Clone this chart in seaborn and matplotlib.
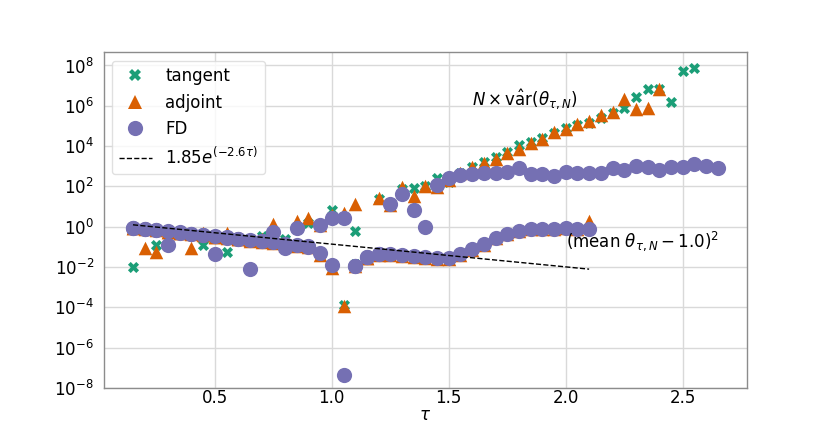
import numpy as np
import pandas as pd
import matplotlib
matplotlib.use('Agg')
import matplotlib.pyplot as plt
import seaborn as sns
from matplotlib.lines import Line2D

# tau grid (step 0.05), each series uses the first len(series) values
TAU = [0.15, 0.20, 0.25, 0.30, 0.35, 0.40, 0.45, 0.50, 0.55, 0.60,
       0.65, 0.70, 0.75, 0.80, 0.85, 0.90, 0.95, 1.00, 1.05, 1.10,
       1.15, 1.20, 1.25, 1.30, 1.35, 1.40, 1.45, 1.50, 1.55, 1.60,
       1.65, 1.70, 1.75, 1.80, 1.85, 1.90, 1.95, 2.00, 2.05, 2.10,
       2.15, 2.20, 2.25, 2.30, 2.35, 2.40, 2.45, 2.50, 2.55, 2.60,
       2.65]

# values, stored as log10 exponents
# N x var estimates
TANGENT_VAR = [-2.0, -0.15, -0.9, -0.3, -0.35, -0.4, -0.9, -0.5, -1.25, -0.6,
               -0.65, -0.45, -0.5, -0.6, -0.1, 0.2, 0.05, 0.85, 0.45, -0.2,
               -1.5, 1.4, 1.15, 1.85, 1.9, 2.0, 2.4, 2.2, 2.65, 2.95,
               3.2, 3.45, 3.7, 4.05, 4.2, 4.4, 4.65, 4.9, 5.05, 5.15,
               5.4, 5.65, 5.9, 6.45, 6.85, 6.85, 6.2, 7.75, 7.9]
ADJOINT_VAR = [-0.05, -1.05, -1.25, -0.25, -0.3, -1.05, -0.3, -0.5, -0.3, -0.6,
               -0.7, -0.6, 0.15, -0.9, 0.3, 0.45, 0.1, 0.6, 0.7, 1.15,
               -1.55, 1.45, 1.1, 1.95, 1.55, 2.0, 1.95, 2.3, 2.65, 2.95,
               3.15, 3.35, 3.65, 3.85, 4.15, 4.35, 4.7, 4.85, 5.1, 5.25,
               5.55, 5.7, 6.35, 5.85, 5.9, 6.85]
FD_VAR = [-0.05, -0.1, -0.15, -0.9, -0.3, -0.35, -0.4, -1.35, -0.55, -0.6,
          -2.1, -0.7, -0.25, -1.05, -0.05, -1.0, 0.1, 0.45, 0.45, -1.95,
          -1.5, -1.35, 1.15, 1.65, 0.85, 0.0, 2.05, 2.4, 2.55, 2.6,
          2.65, 2.65, 2.7, 2.9, 2.6, 2.6, 2.5, 2.7, 2.65, 2.65,
          2.65, 2.9, 2.8, 3.0, 2.95, 2.8, 2.95, 2.95, 3.1, 3.0,
          2.9]

# squared bias (mean - 1)^2
TANGENT_BIAS = [-0.05, -0.1, -0.15, -0.22, -0.28, -0.35, -0.4, -0.47, -0.53, -0.6,
                -0.65, -0.72, -0.78, -0.85, -0.9, -0.97, -1.3, -2.0, -3.9, -1.85,
                -1.5, -1.35, -1.35, -1.4, -1.45, -1.5, -1.55, -1.55, -1.35, -1.1,
                -0.85, -0.55, -0.35, -0.2, -0.1, -0.1, -0.1, -0.05, -0.1, -0.1]
ADJOINT_BIAS = [-0.08, -0.13, -0.18, -0.25, -0.31, -0.38, -0.43, -0.5, -0.56, -0.63,
                -0.68, -0.75, -0.81, -0.88, -0.93, -1.0, -1.4, -2.05, -3.95, -1.95,
                -1.53, -1.38, -1.38, -1.43, -1.48, -1.53, -1.58, -1.58, -1.38, -1.13,
                -0.88, -0.58, -0.38, -0.23, -0.13, -0.13, -0.13, -0.08, -0.13, 0.3]
FD_BIAS = [-0.05, -0.1, -0.15, -0.22, -0.28, -0.35, -0.4, -0.47, -0.53, -0.6,
           -0.65, -0.72, -0.78, -0.85, -0.9, -0.97, -1.3, -1.9, -7.35, -1.95,
           -1.5, -1.35, -1.35, -1.4, -1.45, -1.5, -1.55, -1.55, -1.35, -1.1,
           -0.85, -0.55, -0.35, -0.2, -0.1, -0.1, -0.1, -0.05, -0.1, -0.1]

# dashed reference line, end points
FIT_TAU = [0.15, 2.10]
FIT_VALS = [1.25, 0.0079]

LABELS = ['tangent', 'adjoint', 'FD']
MARKERS = ['X', '^', 'o']
SIZES = [64, 95, 120]

FS = 12


def to_frame(exps):
    """Series of log10 exponents -> dataframe with tau and value"""
    return pd.DataFrame({'tau': TAU[:len(exps)],
                         'value': np.power(10.0, np.array(exps))})


def main():
    sns.set_style('whitegrid')
    plt.rcParams['font.family'] = ['DejaVu Sans']
    plt.rcParams['mathtext.fontset'] = 'dejavusans'
    plt.rcParams['text.color'] = 'black'
    plt.rcParams['axes.labelcolor'] = 'black'
    plt.rcParams['xtick.labelcolor'] = 'black'
    plt.rcParams['ytick.labelcolor'] = 'black'

    colors = sns.color_palette('Dark2', 3)
    series = [(TANGENT_VAR, TANGENT_BIAS), (ADJOINT_VAR, ADJOINT_BIAS), (FD_VAR, FD_BIAS)]

    fig, ax = plt.subplots(figsize=(8.3, 4.36), dpi=100)
    fig.subplots_adjust(left=0.125, right=0.9, bottom=0.11, top=0.88)

    for (var, bias), color, marker, size in zip(series, colors, MARKERS, SIZES):
        for exps in (var, bias):
            sns.scatterplot(data=to_frame(exps), x='tau', y='value', ax=ax,
                            color=color, marker=marker, s=size, linewidth=0,
                            legend=False, zorder=3)

    fit = pd.DataFrame({'tau': FIT_TAU, 'value': FIT_VALS})
    sns.lineplot(data=fit, x='tau', y='value', ax=ax, color='black',
                 linestyle='--', linewidth=1, zorder=4)

    ax.set_yscale('log')
    ax.set_ylim(1e-8, 4.5e8)
    ax.set_yticks([10.0 ** k for k in range(-8, 9, 2)])
    ax.minorticks_off()
    ax.set_xticks([0.5, 1.0, 1.5, 2.0, 2.5])
    ax.set_xlabel(r'$\tau$', fontsize=FS, labelpad=-1)
    ax.set_ylabel('')
    ax.tick_params(axis='x', labelsize=FS, length=0, pad=1)
    ax.tick_params(axis='y', labelsize=FS, length=4, color='0.8', pad=3)
    ax.grid(True, color='0.85', linewidth=1)
    for sp in ax.spines.values():
        sp.set_color('0.55')
        sp.set_linewidth(1)

    ax.text(1.6, 1e6, r'$N \times \mathrm{v\hat{a}r}(\theta_{\tau,N})$', fontsize=FS)
    ax.text(2.0, 1e-1, r'(mean $\theta_{\tau,N} - 1.0)^2$', fontsize=FS, clip_on=False)

    handles = [Line2D([], [], ls='', marker=m, color=c, markersize=np.sqrt(s), markeredgewidth=0)
               for m, c, s in zip(MARKERS, colors, SIZES)]
    handles.append(Line2D([], [], color='black', ls='--', lw=1))
    ax.legend(handles, LABELS + [r'$1.85e^{(-2.6\tau)}$'], loc='upper left',
              fontsize=FS, frameon=True, framealpha=0.8, edgecolor='0.85')

    fig.savefig('out.png', dpi=100)


if __name__ == '__main__':
    main()
